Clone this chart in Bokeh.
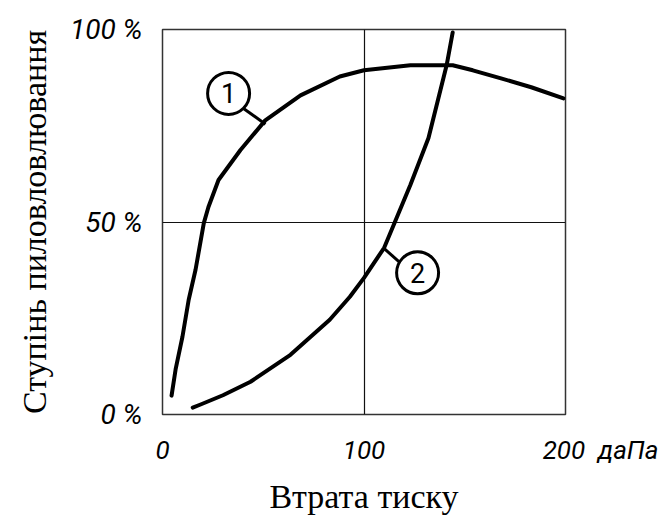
from bokeh.plotting import figure
from bokeh.models import FixedTicker
from bokeh.core.properties import value
from bokeh.embed import file_html
from bokeh.resources import INLINE

# Curve 1
c1_x = [4.5, 6.5, 9.9, 13.0, 16.4, 20.5, 22.8, 27.8, 38.7, 51.0, 68.5, 88.0, 100.0, 123.0, 144.0, 154.0, 168.0, 183.0, 199.0]
c1_y = [4.9, 11.7, 20.2, 29.8, 37.6, 49.7, 53.9, 60.9, 68.7, 76.4, 82.9, 87.8, 89.4, 90.7, 90.7, 89.4, 87.3, 85.0, 82.1]
# Curve 2
c2_x = [15.0, 18.9, 30.0, 43.7, 63.5, 83.0, 93.0, 100.0, 110.0, 115.6, 123.0, 132.0, 141.0, 144.0]
c2_y = [1.8, 2.6, 5.0, 8.5, 15.5, 24.6, 30.6, 35.5, 43.3, 50.3, 59.6, 71.8, 90.7, 99.2]

# Callouts
tag_x = [32.8, 126.6]
tag_y = [83.4, 36.8]
tag_text = ["1", "2"]
lead1_x = [40.2, 51.1]
lead1_y = [79.5, 75.4]
lead2_x = [117.6, 110.2]
lead2_y = [39.6, 43.0]

x_ticks = [0, 100, 200]
x_tick_labels = ["0", "100", "200"]
y_ticks = [0, 50, 100]
y_tick_labels = ["0 %", "50 %", "100 %"]
x_unit = "даПа"
x_title = "Втрата тиску"
y_title = "Ступінь пиловловлювання"

TICK_FONT = "Roboto"
NBSP = "\u00a0"

# the unit is written after the last x tick label; left padding keeps "200" centred on its tick
x_labels = list(x_tick_labels)
x_labels[-1] = NBSP * 11 + x_labels[-1] + NBSP * 2 + x_unit

p = figure(width=659, height=517, x_range=(0, 200), y_range=(0, 100),
           output_backend="svg", toolbar_location=None,
           min_border_left=162, min_border_right=94, min_border_top=29, min_border_bottom=102)
p.background_fill_color = "white"
p.border_fill_color = "white"
p.outline_line_color = "#333333"
p.outline_line_width = 1.5

p.xgrid.ticker = FixedTicker(ticks=[100])
p.ygrid.ticker = FixedTicker(ticks=[50])
for g in (p.xgrid, p.ygrid):
    g.grid_line_color = "#111111"
    g.grid_line_width = 1.2

for ax in (p.xaxis, p.yaxis):
    ax.axis_line_color = None
    ax.major_tick_line_color = None
    ax.minor_tick_line_color = None
    ax.major_tick_out = 0
    ax.major_tick_in = 0
    ax.major_label_text_font = TICK_FONT
    ax.major_label_text_font_style = "italic"
    ax.major_label_text_color = "black"
    ax.axis_label_text_font = "Liberation Serif"
    ax.axis_label_text_font_style = "normal"
    ax.axis_label_text_font_size = "34px"
    ax.axis_label_text_color = "black"

p.xaxis.major_label_text_font_size = "26px"
p.yaxis.major_label_text_font_size = "28px"
p.xaxis.ticker = FixedTicker(ticks=x_ticks)
p.xaxis.major_label_overrides = dict(zip(x_ticks, x_labels))
p.yaxis.ticker = FixedTicker(ticks=y_ticks)
p.yaxis.major_label_overrides = dict(zip(y_ticks, y_tick_labels))
p.xaxis.major_label_standoff = 20
p.yaxis.major_label_standoff = 20
p.xaxis.axis_label = x_title
p.yaxis.axis_label = y_title
p.xaxis.axis_label_standoff = 10
p.yaxis.axis_label_standoff = 14

p.line(c1_x, c1_y, line_color="black", line_width=4, line_cap="round", line_join="round")
p.line(c2_x, c2_y, line_color="black", line_width=4, line_cap="round", line_join="round")
p.line(lead1_x, lead1_y, line_color="black", line_width=3)
p.line(lead2_x, lead2_y, line_color="black", line_width=3)
p.scatter(tag_x, tag_y, marker="circle", size=42, fill_color="white",
          line_color="black", line_width=3)
p.text(tag_x, tag_y, text=tag_text, text_align="center", text_baseline="middle",
       text_font=value(TICK_FONT), text_font_size="27px", text_color="black")

open("out.html", "w").write(file_html(p, INLINE))
